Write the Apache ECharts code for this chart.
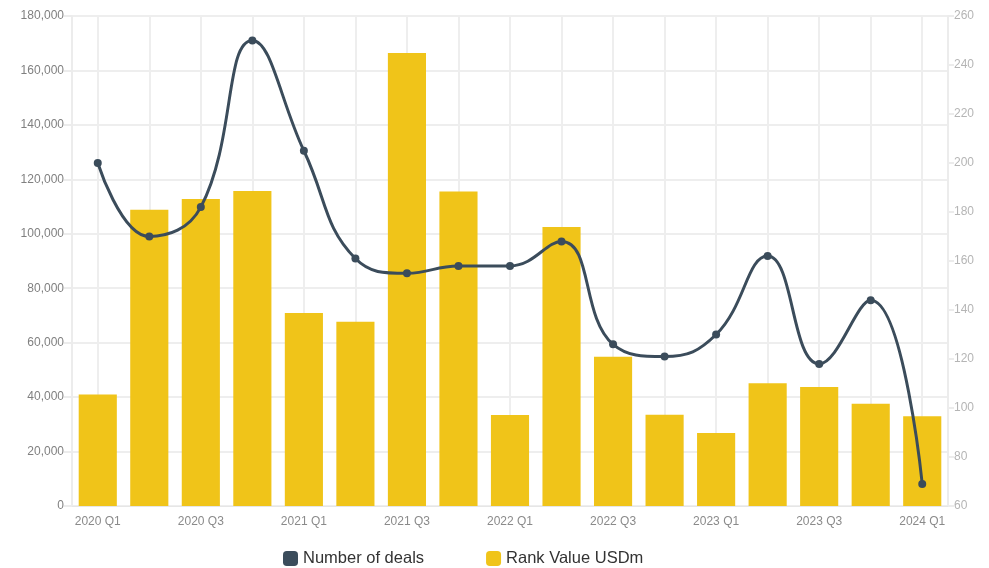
<!DOCTYPE html>
<html>
<head>
<meta charset="utf-8">
<script src="https://cdn.jsdelivr.net/npm/echarts@6/dist/echarts.min.js"></script>
<style>
  html, body { margin: 0; padding: 0; background: #fff; }
  #main { width: 989px; height: 568px; }
</style>
</head>
<body>
<div id="main"></div>
<script>
var quarters = [
    '2020 Q1', '2020 Q2', '2020 Q3', '2020 Q4',
    '2021 Q1', '2021 Q2', '2021 Q3', '2021 Q4',
    '2022 Q1', '2022 Q2', '2022 Q3', '2022 Q4',
    '2023 Q1', '2023 Q2', '2023 Q3', '2023 Q4',
    '2024 Q1'
];
var rankValue = [
    41000, 108800, 112800, 115700,
    70900, 67700, 166400, 115500,
    33400, 102500, 54800, 33500,
    26800, 45100, 43700, 37600,
    33000
];
var dealCount = [
    200, 170, 182, 250,
    205, 161, 155, 158,
    158, 168, 126, 121,
    130, 162, 118, 144,
    69
];

var myChart = echarts.init(document.getElementById('main'));
var font = 'Liberation Sans, Arial, Helvetica, sans-serif';

var option = {
    backgroundColor: '#fff',
    textStyle: { fontFamily: font },
    grid: { left: 72, right: 41, top: 16, bottom: 62 },
    legend: {
        data: ['Number of deals', 'Rank Value USDm'],
        left: 278,
        top: 545,
        icon: 'roundRect',
        itemWidth: 15,
        itemHeight: 15,
        itemGap: 62,
        textStyle: { fontSize: 16.5, color: '#333', fontFamily: font }
    },
    xAxis: {
        type: 'category',
        data: quarters,
        axisLine: { lineStyle: { color: '#e6e6e6', width: 1 } },
        axisTick: { alignWithLabel: true, interval: 0, length: 6, lineStyle: { color: '#e0e0e0' } },
        axisLabel: { interval: 1, color: '#8a8a8a', fontSize: 12, margin: 10 },
        splitLine: { show: true, interval: 0, alignWithLabel: true, lineStyle: { color: '#eeeeee', width: 2 } }
    },
    yAxis: [
        {
            type: 'value',
            min: 0,
            max: 180000,
            interval: 20000,
            axisLine: { show: true, lineStyle: { color: '#ececec', width: 2 } },
            axisTick: { show: true, length: 8, lineStyle: { color: '#ececec', width: 2 } },
            axisLabel: { color: '#808080', fontSize: 12, margin: 8 },
            splitLine: { lineStyle: { color: '#eeeeee', width: 2 } }
        },
        {
            type: 'value',
            min: 60,
            max: 260,
            interval: 20,
            axisLine: { show: true, lineStyle: { color: '#ececec', width: 2 } },
            axisTick: { show: true, length: 6, lineStyle: { color: '#ececec', width: 2 } },
            axisLabel: { color: '#b5b5b5', fontSize: 12, margin: 6 },
            splitLine: { show: false }
        }
    ],
    series: [
        {
            name: 'Rank Value USDm',
            type: 'bar',
            yAxisIndex: 0,
            data: rankValue,
            barCategoryGap: '26%',
            itemStyle: { color: '#f0c419' },
            z: 2
        },
        {
            name: 'Number of deals',
            type: 'line',
            yAxisIndex: 1,
            data: dealCount,
            smooth: 0.45,
            symbol: 'circle',
            symbolSize: 8,
            lineStyle: { color: '#3b4c5b', width: 3 },
            itemStyle: { color: '#3b4c5b' },
            z: 3
        }
    ]
};

myChart.setOption(option);
</script>
</body>
</html>
